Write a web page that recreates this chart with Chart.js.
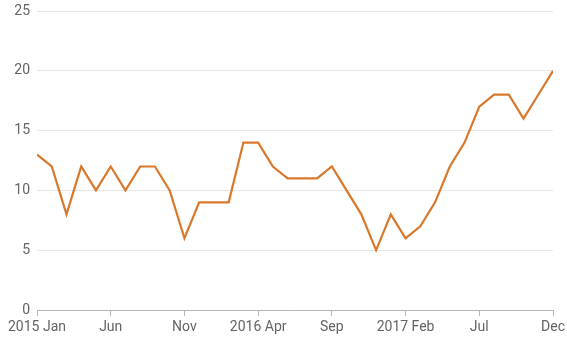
<!DOCTYPE html>
<html>
<head>
<meta charset="utf-8">
<script src="https://cdn.jsdelivr.net/npm/chart.js@4/dist/chart.umd.min.js"></script>
<style>
html,body{margin:0;padding:0;background:#fff;}
#wrap{width:567px;height:350px;}
</style>
</head>
<body>
<div id="wrap"><canvas id="c" width="567" height="350"></canvas></div>
<script>
const months = ["2015 Jan","Feb","Mar","Apr","May","Jun","Jul","Aug","Sep","Oct","Nov","Dec",
  "2016 Jan","Feb","Mar","Apr","May","Jun","Jul","Aug","Sep","Oct","Nov","Dec",
  "2017 Jan","Feb","Mar","Apr","May","Jun","Jul","Aug","Sep","Oct","Nov","Dec"];
const tickLabels = ["2015 Jan","Jun","Nov","2016 Apr","Sep","2017 Feb","Jul","Dec"];
const values = [13,12,8,12,10,12,10,12,12,10,6,9,
  9,9,14,14,12,11,11,11,12,10,8,5,
  8,6,7,9,12,14,17,18,18,16,18,20];
const yTicks = [0,5,10,15,20,25];

const points = values.map((v,i)=>({x:i,y:v}));

new Chart(document.getElementById('c'), {
  type: 'line',
  data: {
    datasets: [{
      data: points,
      borderColor: '#d9782a',
      borderWidth: 2.2,
      pointRadius: 0,
      tension: 0,
      fill: false
    }]
  },
  options: {
    responsive: false,
    animation: false,
    layout: { padding: { top: 11, right: 14, bottom: 0, left: 0 } },
    plugins: { legend: { display: false }, tooltip: { enabled: false } },
    scales: {
      x: {
        type: 'linear',
        min: 0, max: 35,
        afterBuildTicks: (s) => { s.ticks = tickLabels.map((t,i)=>({value:i*5})); },
        afterFit: (s) => { s.height = 40; s.paddingLeft = 0; s.paddingRight = 0; },
        grid: { display: true, drawOnChartArea: false, drawTicks: true, tickLength: 6, color: '#b5b5b5' },
        border: { display: true, color: '#b5b5b5', width: 1 },
        ticks: {
          padding: 3,
          maxRotation: 0,
          autoSkip: false,
          color: '#646464',
          font: { family: 'Roboto', size: 14 },
          callback: (v) => tickLabels[Math.round(v/5)]
        }
      },
      y: {
        min: 0, max: 25,
        afterBuildTicks: (s) => { s.ticks = yTicks.map(v=>({value:v})); },
        afterFit: (s) => { s.width = 37; s.paddingTop = 0; s.paddingBottom = 0; },
        grid: { color: (ctx)=> ctx.tick && ctx.tick.value===0 ? 'rgba(0,0,0,0)' : '#e6e6e6', drawTicks: false, lineWidth: 1 },
        border: { display: false },
        ticks: {
          padding: 7,
          color: '#646464',
          font: { family: 'Roboto', size: 14 }
        }
      }
    }
  }
});
</script>
</body>
</html>
